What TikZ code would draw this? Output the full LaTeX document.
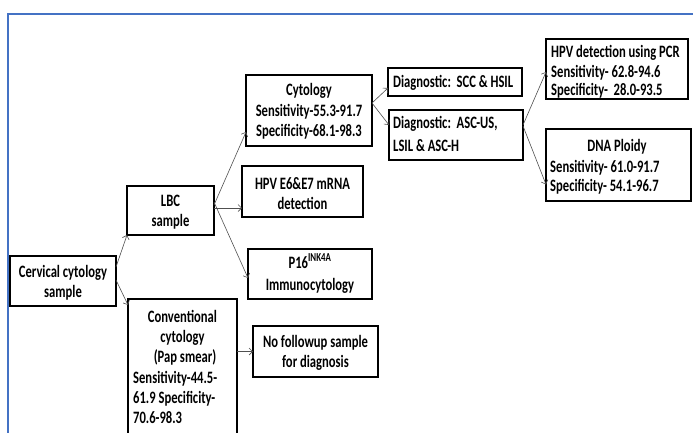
\documentclass[tikz,border=0pt]{standalone}
\usepackage{fontspec}
\setmainfont{Carlito}
\usetikzlibrary{arrows.meta}
\definecolor{frameblue}{HTML}{4472C4}
\definecolor{arrgray}{HTML}{505050}
\newcommand{\lbfont}{\fontsize{12.6}{21}\selectfont\bfseries}
\newcommand{\st}[1]{\scalebox{1}[1.38]{#1}}
\tikzset{
  box/.style={draw=black, line width=1.7pt, rectangle, inner sep=0pt, outer sep=0pt},
  tc/.style={anchor=base, inner sep=0pt, font=\lbfont},
  tl/.style={anchor=base west, inner sep=0pt, font=\lbfont},
  arr/.style={draw=arrgray, line width=0.6pt, -{Straight Barb[length=3.5pt,width=7pt]}},
}
\begin{document}
\begin{tikzpicture}[x=1pt,y=-1pt]
\useasboundingbox (0,0) rectangle (693,432);
\clip (0,0) rectangle (693,432);
\fill[white] (0,0) rectangle (693,432);
% frame
\draw[frameblue, line width=1.3pt] (8,440) -- (8,14) -- (700,14);
% boxes
\node[box, minimum width=106pt, minimum height=50pt] (cerv) at (63,281) {};
\node[box, minimum width=87pt, minimum height=49pt] (lbc) at (170.5,210.5) {};
\node[box, minimum width=109pt, minimum height=146pt] (conv) at (182.5,372) {};
\node[box, minimum width=126pt, minimum height=71pt] (cyt) at (309,110.5) {};
\node[box, minimum width=121pt, minimum height=51pt] (e6) at (302.5,191.5) {};
\node[box, minimum width=124pt, minimum height=50pt] (p16) at (310,274) {};
\node[box, minimum width=125pt, minimum height=51pt] (nof) at (315.5,351.5) {};
\node[box, minimum width=134pt, minimum height=28pt] (scc) at (455,82) {};
\node[box, minimum width=134pt, minimum height=50pt] (asc) at (456,135) {};
\node[box, minimum width=142pt, minimum height=60pt] (pcr) at (617,69) {};
\node[box, minimum width=145pt, minimum height=72pt] (dna) at (618.5,165) {};
% texts
\node[tc] (cervt1) at (63,277) {\st{Cervical cytology}};
\node[tc] (cervt2) at (63,297) {\st{sample}};
\node[tc] (lbct1) at (170.5,206) {\st{LBC}};
\node[tc] (lbct2) at (170.5,226) {\st{sample}};
\node[tc] (convt1) at (182.5,322) {\st{Conventional}};
\node[tc] (convt2) at (182.5,342) {\st{cytology}};
\node[tc] (convt3) at (185,362) {\st{(Pap smear)}};
\node[tl] (convt4) at (133,383) {\st{Sensitivity-44.5-}};
\node[tl] (convt5) at (133,403) {\st{61.9 Specificity-}};
\node[tl] (convt6) at (133,423) {\st{70.6-98.3}};
\node[tc] (cytt1) at (309,95) {\st{Cytology}};
\node[tc] (cytt2) at (309,116) {\st{Sensitivity-55.3-91.7}};
\node[tc] (cytt3) at (309,136) {\st{Specificity-68.1-98.3}};
\node[tc] (e6t1) at (302.5,189) {\st{HPV E6\&E7 mRNA}};
\node[tc] (e6t2) at (302.5,209) {\st{detection}};
\node[tc] (p16t1) at (310,268) {\st{P16\textsuperscript{INK4A}}};
\node[tc] (p16t2) at (310,290) {\st{Immunocytology}};
\node[tc] (noft1) at (315.5,347) {\st{No followup sample}};
\node[tc] (noft2) at (315.5,367) {\st{for diagnosis}};
\node[tl] (scct) at (393,87) {\st{Diagnostic:\ \ SCC \& HSIL}};
\node[tl] (asct1) at (393,128) {\st{Diagnostic:\ \ ASC-US,}};
\node[tl] (asct2) at (393,151) {\st{LSIL \& ASC-H}};
\node[tl] (pcrt1) at (551,57) {\st{HPV detection using PCR}};
\node[tl] (pcrt2) at (551,77) {\st{Sensitivity- 62.8-94.6}};
\node[tl] (pcrt3) at (551,95) {\st{Specificity-\ \ 28.0-93.5}};
\node[tc] (dnat1) at (617,151) {\st{DNA Ploidy}};
\node[tl] (dnat2) at (550,172) {\st{Sensitivity- 61.0-91.7}};
\node[tl] (dnat3) at (550,191) {\st{Specificity- 54.1-96.7}};
% connectors
\draw[arr] ([yshift=-11pt]cerv.north east) -- (lbc.south west);
\draw[arr] ([yshift=-24pt]cerv.north east) -- ([yshift=-6pt]conv.north west);
\draw[arr] ([yshift=-19pt]lbc.north east) -- ([yshift=14pt]cyt.south west);
\draw[arr] ([yshift=2.5pt]lbc.east) -- ([yshift=-16.5pt]e6.west);
\draw[arr] ([yshift=-16pt]lbc.north east) -- ([yshift=-4pt]p16.west);
\draw[arr] (conv.east |- nof.west) -- (nof.west);
\draw[arr] ([yshift=7.5pt]cyt.east) -- ([yshift=-6pt]scc.west);
\draw[arr] ([yshift=7.5pt]cyt.east) -- ([yshift=10pt]asc.west);
\draw[arr] ([yshift=10pt]asc.east) -- ([yshift=-3pt]pcr.west);
\draw[arr] ([yshift=9pt]asc.east) -- ([yshift=-19.5pt]dna.west);
\end{tikzpicture}
\end{document}
